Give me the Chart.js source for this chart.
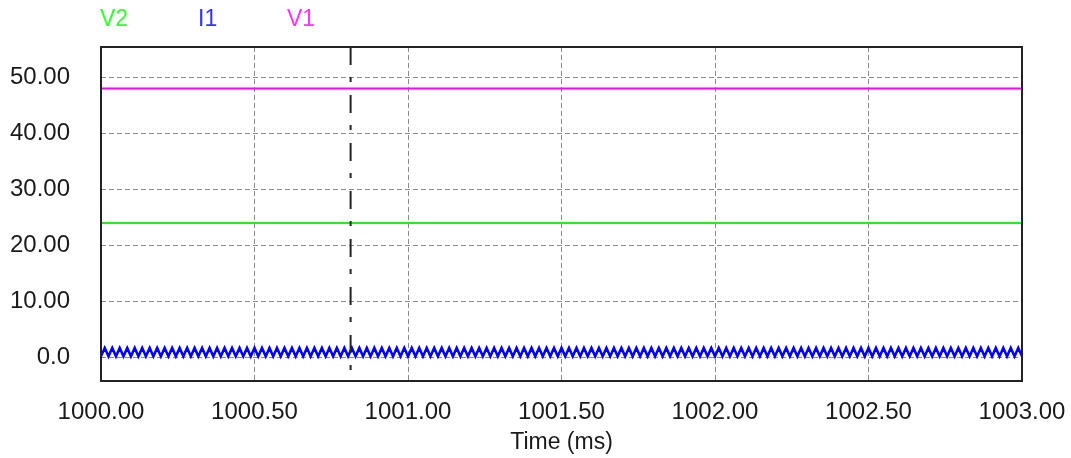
<!DOCTYPE html>
<html>
<head>
<meta charset="utf-8">
<script src="https://cdn.jsdelivr.net/npm/chart.js@4/dist/chart.umd.min.js"></script>
<style>
  html, body { margin: 0; padding: 0; background: #fff; }
  #wrap { position: relative; width: 1071px; height: 458px; font-family: "Liberation Sans", Arial, sans-serif; }
  #legend span { position: absolute; top: 4px; font-size: 23px; line-height: 28px; }
  canvas { position: absolute; left: 0; top: 0; }
</style>
</head>
<body>
<div id="wrap">
  <canvas id="c" width="1071" height="458"></canvas>
  <div id="legend"></div>
</div>
<script>
// ---- data ----
const SERIES_NAMES = ['V2', 'I1', 'V1'];
const SERIES_COLORS = ['#22ee22', '#0000ff', '#ff00ff'];
const LEGEND_COLORS = ['#33ff33', '#3333ff', '#ff33ff'];
const LEGEND_LEFT = [100, 198, 287];

const TIME_START = 1000.0;
const TIME_END = 1003.0;
const V1_VALUES = [48.0, 48.0];
const V2_VALUES = [24.0, 24.0];
const I1_VALUES = [
  0.2,1.7,0.2,1.7,0.2,1.7,0.2,1.7,0.2,1.7,0.2,1.7,0.2,1.7,0.2,1.7,0.2,1.7,0.2,1.7,
  0.2,1.7,0.2,1.7,0.2,1.7,0.2,1.7,0.2,1.7,0.2,1.7,0.2,1.7,0.2,1.7,0.2,1.7,0.2,1.7,
  0.2,1.7,0.2,1.7,0.2,1.7,0.2,1.7,0.2,1.7,0.2,1.7,0.2,1.7,0.2,1.7,0.2,1.7,0.2,1.7,
  0.2,1.7,0.2,1.7,0.2,1.7,0.2,1.7,0.2,1.7,0.2,1.7,0.2,1.7,0.2,1.7,0.2,1.7,0.2,1.7,
  0.2,1.7,0.2,1.7,0.2,1.7,0.2,1.7,0.2,1.7,0.2,1.7,0.2,1.7,0.2,1.7,0.2,1.7,0.2,1.7,
  0.2,1.7,0.2,1.7,0.2,1.7,0.2,1.7,0.2,1.7,0.2,1.7,0.2,1.7,0.2,1.7,0.2,1.7,0.2,1.7,
  0.2,1.7,0.2,1.7,0.2,1.7,0.2,1.7,0.2,1.7,0.2,1.7,0.2,1.7,0.2,1.7,0.2,1.7,0.2,1.7,
  0.2,1.7,0.2,1.7,0.2,1.7,0.2,1.7,0.2,1.7,0.2,1.7,0.2,1.7,0.2,1.7,0.2,1.7,0.2,1.7,
  0.2,1.7,0.2,1.7,0.2,1.7,0.2,1.7,0.2,1.7,0.2,1.7,0.2,1.7,0.2,1.7,0.2,1.7,0.2,1.7,
  0.2,1.7,0.2,1.7,0.2,1.7,0.2,1.7,0.2,1.7,0.2,1.7,0.2,1.7,0.2,1.7,0.2,1.7,0.2,1.7,
  0.2,1.7,0.2,1.7,0.2,1.7,0.2,1.7,0.2,1.7,0.2,1.7,0.2,1.7,0.2,1.7,0.2,1.7,0.2,1.7,
  0.2,1.7,0.2,1.7,0.2,1.7,0.2,1.7,0.2,1.7,0.2,1.7,0.2,1.7,0.2,1.7,0.2,1.7,0.2,1.7,
  0.2,1.7,0.2,1.7,0.2,1.7,0.2
];
const CURSOR_TIME = 1000.813;

const X_TICKS = [1000.0, 1000.5, 1001.0, 1001.5, 1002.0, 1002.5, 1003.0];
const X_LABELS = ['1000.00', '1000.50', '1001.00', '1001.50', '1002.00', '1002.50', '1003.00'];
const Y_TICKS = [0, 10, 20, 30, 40, 50];
const Y_LABELS = ['0.0', '10.00', '20.00', '30.00', '40.00', '50.00'];
const Y_MIN = -4.2;
const Y_MAX = 55.4;
const X_TITLE = 'Time (ms)';

// ---- build ----
const i1Dt = (TIME_END - TIME_START) / (I1_VALUES.length - 1);
const i1Data = I1_VALUES.map((v, i) => ({ x: TIME_START + i * i1Dt, y: v }));
const flat = (vals) => [{ x: TIME_START, y: vals[0] }, { x: TIME_END, y: vals[1] }];

const legend = document.getElementById('legend');
SERIES_NAMES.forEach((n, i) => {
  const s = document.createElement('span');
  s.textContent = n;
  s.style.left = LEGEND_LEFT[i] + 'px';
  s.style.color = LEGEND_COLORS[i];
  legend.appendChild(s);
});

const framePlugin = {
  id: 'frame',
  afterDatasetsDraw(chart) {
    const { ctx, chartArea: a } = chart;
    ctx.save();
    ctx.strokeStyle = '#222';
    ctx.lineWidth = 2;
    ctx.strokeRect(a.left, a.top, a.right - a.left, a.bottom - a.top);
    ctx.restore();
  }
};

const tickFont = { family: '"Liberation Sans", Arial, sans-serif', size: 24 };
const titleFont = { family: '"Liberation Sans", Arial, sans-serif', size: 23 };

new Chart(document.getElementById('c'), {
  type: 'line',
  data: {
    datasets: [
      { label: 'cursor', data: [{ x: CURSOR_TIME, y: Y_MAX }, { x: CURSOR_TIME, y: Y_MIN }],
        borderColor: '#222', borderWidth: 2, borderDash: [18, 12, 5, 13], pointRadius: 0, order: 0 },
      { label: SERIES_NAMES[1], data: i1Data, borderColor: SERIES_COLORS[1], borderWidth: 2.5, pointRadius: 0, order: 1 },
      { label: SERIES_NAMES[0], data: flat(V2_VALUES), borderColor: SERIES_COLORS[0], borderWidth: 2, pointRadius: 0, order: 2 },
      { label: SERIES_NAMES[2], data: flat(V1_VALUES), borderColor: SERIES_COLORS[2], borderWidth: 2, pointRadius: 0, order: 3 }
    ]
  },
  options: {
    responsive: false,
    animation: false,
    devicePixelRatio: 1,
    layout: { padding: { left: 0, right: 49, top: 47, bottom: 0 } },
    plugins: { legend: { display: false }, tooltip: { enabled: false } },
    elements: { line: { tension: 0 } },
    scales: {
      x: {
        type: 'linear', min: TIME_START, max: TIME_END,
        afterBuildTicks: (s) => { s.ticks = X_TICKS.map(v => ({ value: v })); },
        afterFit: (s) => { s.height = 77; s.paddingLeft = 0; s.paddingRight = 0; },
        ticks: { font: tickFont, color: '#1a1a1a', padding: 17, maxRotation: 0, autoSkip: false,
                 callback: (v, i) => X_LABELS[i] },
        grid: { color: '#8a8a8a', lineWidth: 1, drawTicks: false },
        border: { display: false, dash: [5, 3] },
        title: { display: true, text: X_TITLE, font: titleFont, color: '#1a1a1a', padding: { top: 0, bottom: 2 } }
      },
      y: {
        type: 'linear', min: Y_MIN, max: Y_MAX,
        afterBuildTicks: (s) => { s.ticks = Y_TICKS.map(v => ({ value: v })); },
        afterFit: (s) => { s.width = 101; s.paddingTop = 0; s.paddingBottom = 0; },
        ticks: { font: tickFont, color: '#1a1a1a', padding: 31, autoSkip: false,
                 callback: (v, i) => Y_LABELS[i] },
        grid: { color: '#8a8a8a', lineWidth: 1, drawTicks: false },
        border: { display: false, dash: [5, 3] }
      }
    }
  },
  plugins: [framePlugin]
});
</script>
</body>
</html>
